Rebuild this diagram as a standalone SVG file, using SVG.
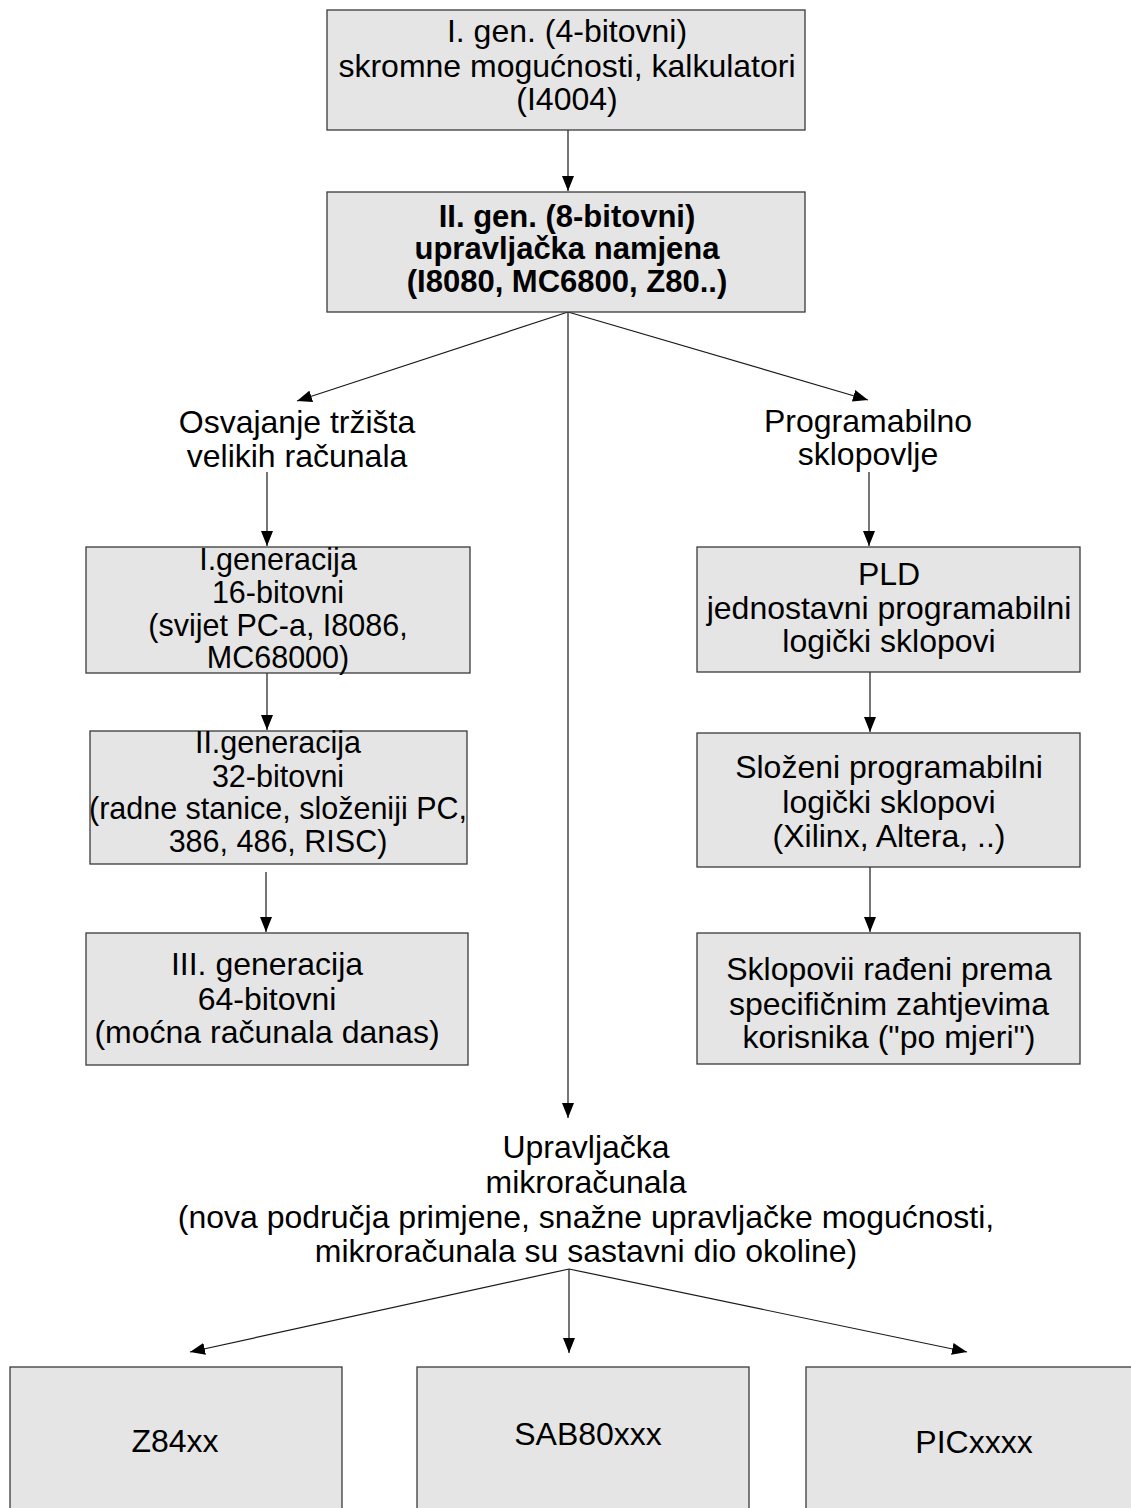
<svg xmlns="http://www.w3.org/2000/svg" width="1131" height="1508" viewBox="0 0 1131 1508">
<style>
.box{fill:#e5e5e5;stroke:#3a3a3a;stroke-width:1.3}
.t{font-family:"Liberation Sans",Arial,Helvetica,sans-serif;font-size:32px;fill:#000;text-anchor:middle}
.s{font-size:30.5px}
.b{font-weight:bold;font-size:31px}
.c{stroke:#1a1a1a;stroke-width:1.2;fill:none;marker-end:url(#ah)}
</style>
<defs>
<marker id="ah" markerUnits="userSpaceOnUse" markerWidth="15" markerHeight="12" refX="15" refY="6" orient="auto"><path d="M0,0 L15,6 L0,12 z" fill="#000"/></marker>
</defs>
<rect width="1131" height="1508" fill="#fff"/>
<g id="connectors">
<line class="c" x1="568" y1="130" x2="568" y2="191"/>
<line class="c" x1="568" y1="312" x2="297" y2="401"/>
<line class="c" x1="568" y1="312" x2="568" y2="1118"/>
<line class="c" x1="568" y1="312" x2="868" y2="400"/>
<line class="c" x1="267" y1="472" x2="267" y2="546"/>
<line class="c" x1="869" y1="472" x2="869" y2="546"/>
<line class="c" x1="267" y1="673" x2="267" y2="730"/>
<line class="c" x1="870" y1="672" x2="870" y2="732"/>
<line class="c" x1="266" y1="872" x2="266" y2="932"/>
<line class="c" x1="870" y1="867" x2="870" y2="932"/>
<line class="c" x1="569" y1="1269" x2="190" y2="1352"/>
<line class="c" x1="569" y1="1269" x2="569" y2="1353"/>
<line class="c" x1="569" y1="1269" x2="967" y2="1352"/>
</g>
<g id="gen1">
<rect class="box" x="327" y="10" width="478" height="120"/>
<text class="t" x="567" y="42">I. gen. (4-bitovni)</text>
<text class="t" x="567" y="77">skromne mogućnosti, kalkulatori</text>
<text class="t" x="567" y="110">(I4004)</text>
</g>
<g id="gen2">
<rect class="box" x="327" y="192" width="478" height="120"/>
<text class="t b" x="567" y="227">II. gen. (8-bitovni)</text>
<text class="t b" x="567" y="259">upravljačka namjena</text>
<text class="t b" x="567" y="292">(I8080, MC6800, Z80..)</text>
</g>
<g id="osvajanje">
<text class="t" x="297" y="433">Osvajanje tržišta</text>
<text class="t" x="297" y="467">velikih računala</text>
</g>
<g id="programabilno">
<text class="t" x="868" y="432">Programabilno</text>
<text class="t" x="868" y="465">sklopovlje</text>
</g>
<g id="gen16">
<rect class="box" x="86" y="547" width="384" height="126"/>
<text class="t s" x="278" y="570">I.generacija</text>
<text class="t s" x="278" y="603">16-bitovni</text>
<text class="t s" x="278" y="636">(svijet PC-a, I8086,</text>
<text class="t s" x="278" y="668">MC68000)</text>
</g>
<g id="gen32">
<rect class="box" x="90" y="731" width="377" height="133"/>
<text class="t s" x="278" y="753">II.generacija</text>
<text class="t s" x="278" y="787">32-bitovni</text>
<text class="t s" x="278" y="819">(radne stanice, složeniji PC,</text>
<text class="t s" x="278" y="852">386, 486, RISC)</text>
</g>
<g id="gen64">
<rect class="box" x="86" y="933" width="382" height="132"/>
<text class="t" x="267" y="975">III. generacija</text>
<text class="t" x="267" y="1010">64-bitovni</text>
<text class="t" x="267" y="1043">(moćna računala danas)</text>
</g>
<g id="pld">
<rect class="box" x="697" y="547" width="383" height="125"/>
<text class="t" x="889" y="585">PLD</text>
<text class="t" x="889" y="619">jednostavni programabilni</text>
<text class="t" x="889" y="652">logički sklopovi</text>
</g>
<g id="cpld">
<rect class="box" x="697" y="733" width="383" height="134"/>
<text class="t" x="889" y="778">Složeni programabilni</text>
<text class="t" x="889" y="813">logički sklopovi</text>
<text class="t" x="889" y="847">(Xilinx, Altera, ..)</text>
</g>
<g id="asic">
<rect class="box" x="697" y="933" width="383" height="131"/>
<text class="t" x="889" y="980">Sklopovii rađeni prema</text>
<text class="t" x="889" y="1015">specifičnim zahtjevima</text>
<text class="t" x="889" y="1048">korisnika ("po mjeri")</text>
</g>
<g id="upravljacka">
<text class="t" x="586" y="1158">Upravljačka</text>
<text class="t" x="586" y="1193">mikroračunala</text>
<text class="t" x="586" y="1228">(nova područja primjene, snažne upravljačke mogućnosti,</text>
<text class="t" x="586" y="1262">mikroračunala su sastavni dio okoline)</text>
</g>
<g id="z84">
<rect class="box" x="10" y="1367" width="332" height="160"/>
<text class="t" x="175" y="1452">Z84xx</text>
</g>
<g id="sab">
<rect class="box" x="417" y="1367" width="332" height="160"/>
<text class="t" x="588" y="1445">SAB80xxx</text>
</g>
<g id="pic">
<rect class="box" x="806" y="1367" width="340" height="160"/>
<text class="t" x="974" y="1453">PICxxxx</text>
</g>
</svg>
